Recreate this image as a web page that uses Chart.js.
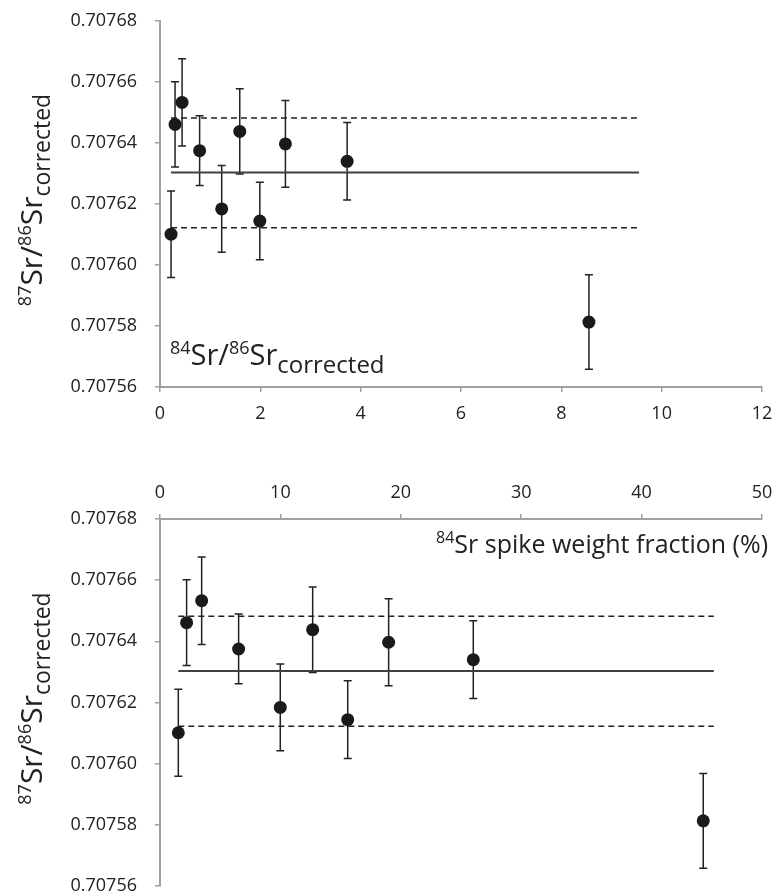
<!DOCTYPE html>
<html><head><meta charset="utf-8">
<script src="https://cdn.jsdelivr.net/npm/chart.js@4.4.1/dist/chart.umd.min.js"></script>
<style>
html,body{margin:0;padding:0;background:#fff;}
#wrap{position:relative;width:774px;height:895px;overflow:hidden;}
canvas{position:absolute;left:0;}
</style></head><body>
<div id="wrap">
<canvas id="c1" width="774" height="420" style="top:0"></canvas>
<canvas id="c2" width="774" height="475" style="top:420px"></canvas>
</div>
<script>
// ---- data ----
const ratio84_86   = [0.22, 0.30, 0.44, 0.79, 1.23, 1.59, 1.99, 2.50, 3.73, 8.55];
const spikeFraction = [1.52, 2.21, 3.46, 6.53, 9.99, 12.68, 15.59, 18.99, 26.02, 45.12];
const sr87_86 = [0.7076101, 0.7076461, 0.7076533, 0.7076375, 0.7076184, 0.7076438, 0.7076144, 0.7076397, 0.7076340, 0.7075813];
const sr87_86Err = [0.0000142, 0.0000140, 0.0000143, 0.0000114, 0.0000142, 0.0000140, 0.0000127, 0.0000142, 0.0000127, 0.0000155];
const meanValue  = 0.7076303;
const upperValue = 0.7076482;
const lowerValue = 0.7076122;
const meanSpanTop    = [0.22, 9.55];
const meanSpanBottom = [1.52, 46.0];
const yTickValues = [0.70756, 0.70758, 0.70760, 0.70762, 0.70764, 0.70766, 0.70768];
const xTicksTop    = [0, 2, 4, 6, 8, 10, 12];
const xTicksBottom = [0, 10, 20, 30, 40, 50];

const FONT = "'Open Sans', 'Noto Sans', sans-serif";
const AXIS_COLOR = '#a0a0a0';
const TEXT_COLOR = '#222';

function drawRich(ctx, parts, x, y, align) {
  let total = 0;
  parts.forEach(p => { ctx.font = p.size + 'px ' + FONT; p.w = ctx.measureText(p.t).width; total += p.w; });
  let cx = align === 'right' ? x - total : (align === 'center' ? x - total / 2 : x);
  ctx.textBaseline = 'alphabetic';
  ctx.textAlign = 'left';
  parts.forEach(p => { ctx.font = p.size + 'px ' + FONT; ctx.fillText(p.t, cx, y + (p.dy || 0)); cx += p.w; });
}

const titleParts = () => [
  {t: '87', size: 18, dy: -11},
  {t: 'Sr/', size: 30},
  {t: '86', size: 18, dy: -11},
  {t: 'Sr', size: 30},
  {t: 'corrected', size: 23, dy: 8}
];

const errorBarPlugin = {
  id: 'errorBars',
  beforeDatasetsDraw(chart) {
    const ctx = chart.ctx, xs = chart.scales.x, ys = chart.scales.y;
    const xv = chart.options.plugins.errorBars.xValues;
    ctx.save();
    ctx.strokeStyle = '#222';
    ctx.lineWidth = 1.5;
    xv.forEach((xval, i) => {
      const px = xs.getPixelForValue(xval);
      const top = ys.getPixelForValue(sr87_86[i] + sr87_86Err[i]);
      const bot = ys.getPixelForValue(sr87_86[i] - sr87_86Err[i]);
      ctx.beginPath();
      ctx.moveTo(px, top); ctx.lineTo(px, bot);
      ctx.moveTo(px - 4, top); ctx.lineTo(px + 4, top);
      ctx.moveTo(px - 4, bot); ctx.lineTo(px + 4, bot);
      ctx.stroke();
    });
    ctx.restore();
  }
};

const textPlugin = {
  id: 'richText',
  afterDraw(chart) {
    const ctx = chart.ctx, ca = chart.chartArea;
    const cfg = chart.options.plugins.richText;
    ctx.save();
    ctx.fillStyle = TEXT_COLOR;
    ctx.save();
    ctx.translate(42, (ca.top + ca.bottom) / 2 - 4);
    ctx.rotate(-Math.PI / 2);
    drawRich(ctx, titleParts(), 0, 0, 'center');
    ctx.restore();
    if (cfg.which === 'top') {
      drawRich(ctx, [
        {t: '84', size: 18, dy: -11},
        {t: 'Sr/', size: 29},
        {t: '86', size: 18, dy: -11},
        {t: 'Sr', size: 29},
        {t: 'corrected', size: 24, dy: 8}
      ], 170, 365, 'left');
    } else {
      drawRich(ctx, [
        {t: '84', size: 16, dy: -10},
        {t: 'Sr spike weight fraction (%)', size: 25}
      ], 768, 133, 'right');
    }
    ctx.restore();
  }
};

function zeroPad(s) { s.paddingTop = 0; s.paddingBottom = 0; s.paddingLeft = 0; s.paddingRight = 0; }

function makeChart(id, xVals, span, xTicks, xMax, which) {
  const isTop = which === 'top';
  const pts = xVals.map((x, i) => ({x: x, y: sr87_86[i]}));
  const hline = v => [{x: span[0], y: v}, {x: span[1], y: v}];
  return new Chart(document.getElementById(id), {
    type: 'scatter',
    data: {
      datasets: [
        {type: 'line', data: hline(meanValue), borderColor: '#404040', borderWidth: 2, pointRadius: 0, fill: false},
        {type: 'line', data: hline(upperValue), borderColor: '#222', borderWidth: 1.5, borderDash: [6, 4], pointRadius: 0, fill: false},
        {type: 'line', data: hline(lowerValue), borderColor: '#222', borderWidth: 1.5, borderDash: [6, 4], pointRadius: 0, fill: false},
        {data: pts, pointRadius: 6.5, pointHoverRadius: 6.5, backgroundColor: '#1a1a1a', borderWidth: 0}
      ]
    },
    options: {
      responsive: false,
      animation: false,
      devicePixelRatio: 1,
      layout: {padding: isTop ? {left: 0, right: 12, top: 21, bottom: 0} : {left: 0, right: 12, top: 0, bottom: 9}},
      plugins: {
        legend: {display: false},
        tooltip: {enabled: false},
        errorBars: {xValues: xVals},
        richText: {which: which}
      },
      scales: {
        x: {
          type: 'linear',
          position: isTop ? 'bottom' : 'top',
          min: 0, max: xMax,
          afterBuildTicks: s => { s.ticks = xTicks.map(v => ({value: v})); },
          afterFit: s => { s.height = isTop ? 33 : 99; zeroPad(s); },
          grid: {drawOnChartArea: false, drawTicks: true, tickLength: 5, color: AXIS_COLOR, lineWidth: 1.5},
          border: {display: true, color: AXIS_COLOR, width: 2},
          ticks: {color: TEXT_COLOR, font: {family: FONT, size: 18}, padding: isTop ? 11 : 10, maxRotation: 0}
        },
        y: {
          type: 'linear',
          min: 0.70756, max: 0.70768,
          afterBuildTicks: s => { s.ticks = yTickValues.map(v => ({value: v})); },
          afterFit: s => { s.width = 160; zeroPad(s); },
          grid: {drawOnChartArea: false, drawTicks: true, tickLength: 5, color: AXIS_COLOR, lineWidth: 1.5},
          border: {display: true, color: AXIS_COLOR, width: 2},
          ticks: {color: TEXT_COLOR, font: {family: FONT, size: 18}, padding: 18, callback: v => Number(v).toFixed(5)}
        }
      }
    },
    plugins: [errorBarPlugin, textPlugin]
  });
}

makeChart('c1', ratio84_86, meanSpanTop, xTicksTop, 12, 'top');
makeChart('c2', spikeFraction, meanSpanBottom, xTicksBottom, 50, 'bottom');
</script>
</body></html>
